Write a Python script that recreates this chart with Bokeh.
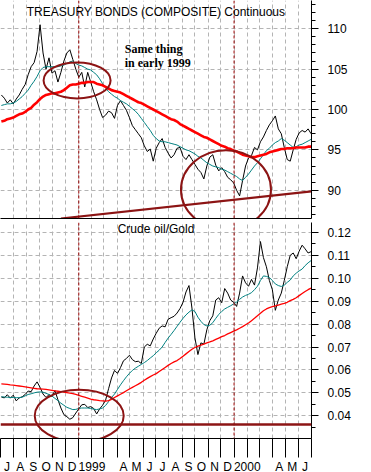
import pandas as pd
from bokeh.plotting import figure
from bokeh.layouts import column
from bokeh.models import (Range1d, FixedTicker, SingleIntervalTicker, NumeralTickFormatter,
                          Span, Label)
from bokeh.embed import file_html
from bokeh.resources import INLINE

# ---------------- data (weekly readings, first week ending 1998-07-03) ----------------
first_week = "1998-07-03"

bond_close = [
    101.8, 101.4, 100.8, 101.2, 100.7, 101.3, 101.8, 102.5, 103.1, 104.3,
    105.3, 105.8, 107.2, 110.5, 107.0, 105.0, 106.4, 104.5, 104.8, 103.4,
    104.6, 106.0, 107.0, 107.4, 106.2, 105.0, 104.0, 104.6, 102.8, 104.6,
    103.4, 102.2, 101.2, 100.0, 99.0, 99.3, 99.8, 99.6, 98.9, 100.5,
    101.1, 100.5, 99.9, 99.0, 98.0, 97.5, 97.0, 96.5, 95.5, 94.8,
    95.1, 93.6, 95.2, 95.9, 96.4, 95.3, 94.6, 94.0, 94.4, 95.2,
    95.3, 94.2, 93.8, 94.4, 93.8, 93.2, 92.6, 92.2, 91.4, 93.0,
    94.1, 94.4, 93.1, 92.4, 92.8, 92.3, 91.6, 91.3, 90.9, 90.0,
    89.3, 91.2, 93.0, 94.0, 94.3, 95.3, 95.0, 96.0, 96.6, 97.4,
    98.1, 98.6, 99.2, 97.6, 97.0, 95.3, 93.8, 93.6, 95.0, 96.3,
    97.1, 97.4, 97.2, 97.6, 97.0,
]
bond_ma_short = [
    100.5, 100.6, 100.7, 100.7, 100.8, 101.0, 101.3, 101.6, 102.0, 102.4,
    103.0, 103.5, 104.1, 104.8, 105.2, 105.3, 105.3, 105.3, 105.3, 105.3,
    105.4, 105.5, 105.7, 105.9, 106.0, 105.7, 105.5, 105.4, 105.2, 105.0,
    104.9, 104.6, 104.3, 103.8, 103.2, 102.7, 102.2, 101.9, 101.6, 101.4,
    101.1, 100.9, 100.7, 100.4, 100.1, 99.8, 99.4, 98.9, 98.4, 97.9,
    97.4, 96.8, 96.4, 96.1, 96.0, 96.0, 95.9, 95.8, 95.7, 95.6,
    95.4, 95.2, 95.0, 94.9, 94.7, 94.5, 94.2, 94.0, 93.7, 93.4,
    93.2, 93.0, 92.9, 92.8, 92.6, 92.5, 92.3, 92.1, 91.9, 91.7,
    91.4, 91.2, 91.6, 92.0, 92.5, 93.0, 93.4, 93.9, 94.4, 94.9,
    95.2, 95.6, 95.9, 96.1, 96.4, 96.2, 95.9, 95.6, 95.3, 95.4,
    95.6, 95.7, 95.9, 96.1, 96.3,
]
bond_ma_long = [
    98.5, 98.6, 98.8, 98.9, 99.0, 99.2, 99.4, 99.5, 99.7, 100.0,
    100.2, 100.6, 100.9, 101.3, 101.6, 101.8, 101.9, 102.0, 102.0, 102.1,
    102.2, 102.4, 102.7, 103.0, 103.1, 103.1, 103.2, 103.3, 103.3, 103.4,
    103.4, 103.4, 103.2, 103.1, 103.0, 102.8, 102.6, 102.4, 102.3, 102.2,
    102.1, 101.9, 101.7, 101.5, 101.3, 101.1, 100.9, 100.8, 100.6, 100.4,
    100.2, 100.0, 99.8, 99.6, 99.4, 99.2, 99.0, 98.8, 98.7, 98.5,
    98.2, 98.0, 97.8, 97.6, 97.4, 97.2, 97.0, 96.8, 96.6, 96.5,
    96.3, 96.1, 95.9, 95.7, 95.5, 95.4, 95.2, 95.1, 94.9, 94.8,
    94.6, 94.4, 94.3, 94.2, 94.1, 94.1, 94.2, 94.3, 94.4, 94.5,
    94.7, 94.8, 94.9, 95.0, 95.1, 95.1, 95.2, 95.2, 95.2, 95.3,
    95.3, 95.3, 95.3, 95.4, 95.4,
]

ratio_close = [
    0.0482, 0.0478, 0.0492, 0.0477, 0.0490, 0.0465, 0.0478, 0.0483, 0.0493, 0.0508,
    0.0505, 0.0530, 0.0548, 0.0524, 0.0495, 0.0480, 0.0492, 0.0485, 0.0510, 0.0470,
    0.0434, 0.0405, 0.0396, 0.0385, 0.0392, 0.0412, 0.0430, 0.0448, 0.0450, 0.0436,
    0.0440, 0.0432, 0.0408, 0.0430, 0.0446, 0.0468, 0.0518, 0.0565, 0.0598, 0.0585,
    0.0610, 0.0640, 0.0650, 0.0664, 0.0645, 0.0636, 0.0638, 0.0628, 0.0700, 0.0712,
    0.0705, 0.0735, 0.0760, 0.0782, 0.0792, 0.0788, 0.0821, 0.0828, 0.0834, 0.0848,
    0.0868, 0.0895, 0.0940, 0.0968, 0.0870, 0.0740, 0.0667, 0.0718, 0.0712, 0.0775,
    0.0815, 0.0836, 0.0905, 0.0915, 0.0893, 0.0955, 0.0935, 0.0905, 0.0895, 0.0877,
    0.0935, 0.1010, 0.0980, 0.0965, 0.0995, 0.0970, 0.1045, 0.1160, 0.1090, 0.1050,
    0.0990, 0.0950, 0.0860, 0.0905, 0.0935, 0.0990, 0.1050, 0.1100, 0.1110, 0.1085,
    0.1118, 0.1144, 0.1128, 0.1110, 0.1116,
]
ratio_ma_short = [
    0.0483, 0.0482, 0.0481, 0.0480, 0.0480, 0.0479, 0.0479, 0.0481, 0.0487, 0.0493,
    0.0496, 0.0500, 0.0503, 0.0504, 0.0503, 0.0498, 0.0493, 0.0486, 0.0476, 0.0466,
    0.0455, 0.0446, 0.0437, 0.0432, 0.0427, 0.0428, 0.0432, 0.0434, 0.0434, 0.0434,
    0.0432, 0.0429, 0.0427, 0.0430, 0.0434, 0.0445, 0.0462, 0.0480, 0.0495, 0.0515,
    0.0535, 0.0553, 0.0570, 0.0585, 0.0598, 0.0608, 0.0616, 0.0624, 0.0632, 0.0641,
    0.0652, 0.0662, 0.0675, 0.0686, 0.0700, 0.0720, 0.0739, 0.0755, 0.0772, 0.0790,
    0.0808, 0.0825, 0.0840, 0.0852, 0.0862, 0.0855, 0.0830, 0.0812, 0.0798, 0.0792,
    0.0795, 0.0806, 0.0825, 0.0842, 0.0855, 0.0866, 0.0873, 0.0880, 0.0888, 0.0896,
    0.0908, 0.0918, 0.0925, 0.0930, 0.0937, 0.0950, 0.0965, 0.0990, 0.1010, 0.1008,
    0.1003, 0.0990, 0.0975, 0.0968, 0.0964, 0.0970, 0.0982, 0.0992, 0.1010, 0.1022,
    0.1032, 0.1040, 0.1055, 0.1067, 0.1077,
]
ratio_ma_long = [
    0.0539, 0.0538, 0.0537, 0.0535, 0.0534, 0.0532, 0.0530, 0.0528, 0.0526, 0.0524,
    0.0522, 0.0520, 0.0518, 0.0517, 0.0516, 0.0515, 0.0513, 0.0511, 0.0509, 0.0507,
    0.0505, 0.0503, 0.0501, 0.0499, 0.0497, 0.0493, 0.0489, 0.0485, 0.0481, 0.0477,
    0.0473, 0.0470, 0.0468, 0.0466, 0.0465, 0.0464, 0.0466, 0.0472, 0.0480, 0.0487,
    0.0494, 0.0501, 0.0509, 0.0517, 0.0524, 0.0531, 0.0538, 0.0546, 0.0555, 0.0563,
    0.0571, 0.0578, 0.0584, 0.0593, 0.0602, 0.0611, 0.0620, 0.0628, 0.0635, 0.0641,
    0.0650, 0.0660, 0.0670, 0.0680, 0.0690, 0.0698, 0.0704, 0.0708, 0.0713, 0.0718,
    0.0722, 0.0727, 0.0733, 0.0739, 0.0745, 0.0750, 0.0757, 0.0763, 0.0769, 0.0775,
    0.0782, 0.0789, 0.0797, 0.0805, 0.0815, 0.0825, 0.0836, 0.0847, 0.0858, 0.0866,
    0.0872, 0.0876, 0.0879, 0.0883, 0.0887, 0.0890, 0.0895, 0.0902, 0.0908, 0.0915,
    0.0924, 0.0933, 0.0942, 0.0950, 0.0957,
]

# axis labels for each month, Jul 1998 .. Jun 2000 (year shown in place of Jan, Feb/Mar hidden)
month_labels = ["J", "A", "S", "O", "N", "D", "1999", "", "", "A", "M", "J",
                "J", "A", "S", "O", "N", "D", "2000", "", "", "A", "M", "J"]

# annotations
bond_trend_dates = ["1998-11-20", "2000-07-01"]
bond_trend_values = [86.5, 89.85]
ratio_support = 0.0362
marker_dates = ["1999-01-01", "2000-01-01"]
title_top = "TREASURY BONDS (COMPOSITE) Continuous"
title_bottom = "Crude oil/Gold"
note_lines = ["Same thing", "in early 1999"]
note_date = "1999-04-19"
note_values = [107.55, 105.76]
top_circle_dates = ["1998-12-28", "1999-12-13"]
top_circle_values = [103.6, 90.06]
top_circle_w = [67, 90]
top_circle_h = [36, 79]
bottom_circle_dates = ["1999-01-02"]
bottom_circle_values = [0.0400]
bottom_circle_w = [89]
bottom_circle_h = [52]

# ---------------- helpers ----------------
def ms(t):
    return int(pd.Timestamp(t).value // 10**6)

dates_ms = [ms(d) for d in pd.date_range(first_week, periods=len(bond_close), freq="7D")]
month_starts = [ms(d) for d in pd.date_range("1998-07-01", "2000-07-01", freq="MS")]

label_pos, overrides = [], {}
for k, lab in enumerate(month_labels):
    if not lab:
        continue
    if lab.isdigit():
        pos = month_starts[k + 1]
    else:
        pos = (month_starts[k] + month_starts[k + 1]) // 2
    label_pos.append(pos)
    overrides[pos] = lab

FONT = "Liberation Sans"
GRID = "#b4b4b4"
DARK = "#8c1414"
FRAME_W = 311

x_range = Range1d(month_starts[0], month_starts[-1])


def style_common(p):
    p.outline_line_color = None
    p.background_fill_color = "white"
    p.border_fill_color = "white"
    p.xgrid.grid_line_color = None
    p.xgrid.minor_grid_line_color = GRID
    p.xgrid.minor_grid_line_dash = "4 3"
    p.ygrid.grid_line_color = GRID
    p.ygrid.grid_line_dash = "4 3"
    ax = p.yaxis[0]
    ax.axis_line_color = "black"
    ax.major_tick_line_color = "black"
    ax.minor_tick_line_color = "black"
    ax.major_tick_out = 7
    ax.major_tick_in = 0
    ax.minor_tick_out = 4
    ax.minor_tick_in = 0
    ax.major_label_standoff = 9
    ax.major_label_text_font = FONT
    ax.major_label_text_font_size = "12px"
    ax.major_label_text_color = "black"
    for loc in marker_dates:
        p.add_layout(Span(location=ms(loc), dimension="height", line_color="#990000",
                          line_dash="3 2", line_width=1))


# ---------------- top panel ----------------
top = figure(frame_width=FRAME_W, frame_height=218, x_range=x_range,
             y_range=Range1d(86.5, 113.5), y_axis_location="right",
             toolbar_location=None, output_backend="svg",
             min_border_left=0, min_border_right=44, min_border_top=0, min_border_bottom=0)
top.xaxis.ticker = FixedTicker(ticks=[], minor_ticks=month_starts)
top.xaxis.major_label_text_font_size = "0px"
top.xaxis.major_label_standoff = 0
top.xaxis.major_tick_line_color = None
top.xaxis.minor_tick_line_color = None
top.xaxis.axis_line_color = "black"
top.yaxis.ticker = SingleIntervalTicker(interval=5, num_minor_ticks=5)
top.yaxis.formatter = NumeralTickFormatter(format="0")
style_common(top)

top.line(dates_ms, bond_close, line_color="black", line_width=1)
top.line(dates_ms, bond_ma_short, line_color="#008080", line_width=1)
top.line(dates_ms, bond_ma_long, line_color="#ff0000", line_width=2.6)
top.line([ms(d) for d in bond_trend_dates], bond_trend_values, line_color=DARK, line_width=2.2)
top.ellipse(x=[ms(d) for d in top_circle_dates], y=top_circle_values,
            width=top_circle_w, height=top_circle_h,
            width_units="screen", height_units="screen",
            fill_color=None, line_color=DARK, line_width=2)

mid = (month_starts[0] + month_starts[-1]) // 2
top.add_layout(Label(x=mid, y=112.07, text=title_top, text_font=FONT,
                     text_font_size="12px", text_align="center", text_baseline="middle",
                     text_color="black"))
for txt, yv in zip(note_lines, note_values):
    top.add_layout(Label(x=ms(note_date), y=yv, text=txt, text_font="Liberation Serif",
                         text_font_style="bold", text_font_size="12px",
                         text_align="left", text_baseline="middle", text_color="black"))

# ---------------- bottom panel ----------------
bot = figure(frame_width=FRAME_W, frame_height=216, x_range=x_range,
             y_range=Range1d(0.0301, 0.1243), y_axis_location="right",
             toolbar_location=None, output_backend="svg",
             min_border_left=0, min_border_right=44, min_border_top=0, min_border_bottom=19)
xa = bot.xaxis[0]
xa.ticker = FixedTicker(ticks=label_pos, minor_ticks=month_starts)
xa.major_label_overrides = overrides
xa.major_tick_line_color = None
xa.major_tick_out = 0
xa.major_tick_in = 0
xa.minor_tick_out = 19
xa.minor_tick_in = 0
xa.minor_tick_line_color = "black"
xa.axis_line_color = "black"
xa.major_label_standoff = 2
xa.major_label_text_font = FONT
xa.major_label_text_font_size = "12px"
xa.major_label_text_color = "black"
bot.yaxis.ticker = SingleIntervalTicker(interval=0.01, num_minor_ticks=2)
bot.yaxis.formatter = NumeralTickFormatter(format="0.00")
style_common(bot)

bot.line(dates_ms, ratio_close, line_color="black", line_width=1)
bot.line(dates_ms, ratio_ma_short, line_color="#008080", line_width=1)
bot.line(dates_ms, ratio_ma_long, line_color="#ff0000", line_width=1.3)
bot.add_layout(Span(location=ratio_support, dimension="width", line_color=DARK, line_width=2.6))
bot.ellipse(x=[ms(d) for d in bottom_circle_dates], y=bottom_circle_values,
            width=bottom_circle_w, height=bottom_circle_h,
            width_units="screen", height_units="screen",
            fill_color=None, line_color=DARK, line_width=2)
bot.add_layout(Label(x=mid, y=0.1213, text=title_bottom, text_font=FONT,
                     text_font_size="12px", text_align="center", text_baseline="middle",
                     text_color="black"))

layout = column(top, bot, spacing=0)
open("out.html", "w").write(file_html(layout, INLINE, title="Treasury bonds and crude oil/gold"))
